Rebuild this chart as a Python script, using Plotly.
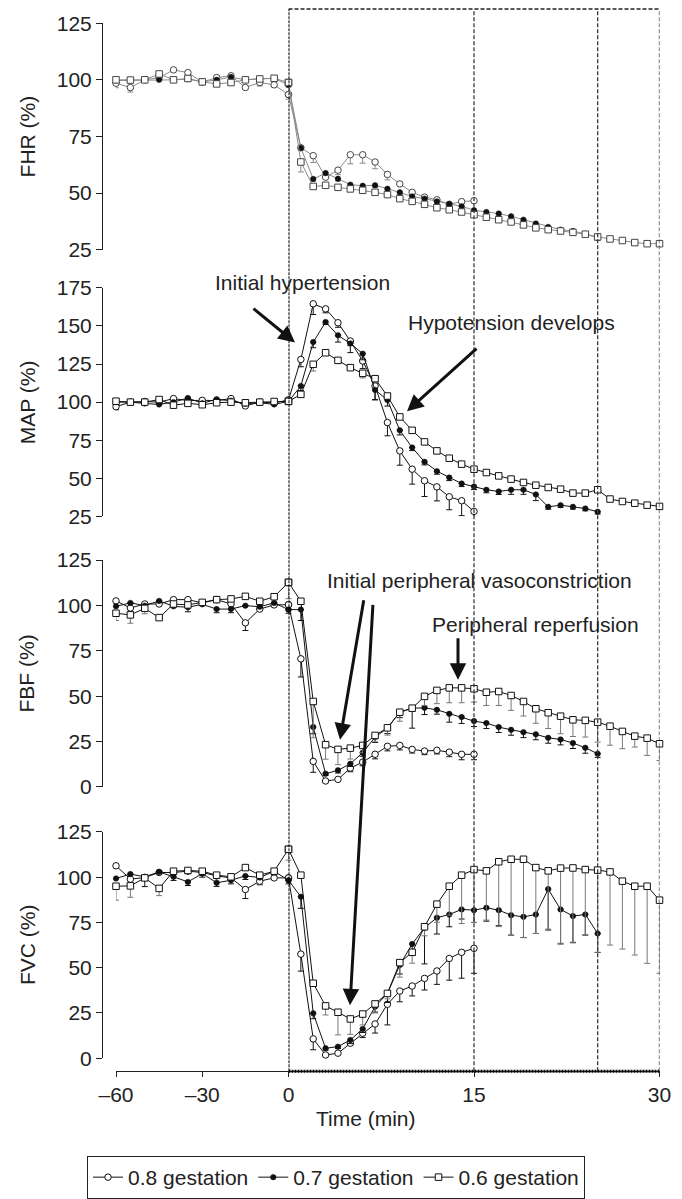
import plotly.graph_objects as go

# ---------------- data ----------------
TIME_PRE = [-60, -55, -50, -45, -40, -35, -30, -25, -20, -15, -10, -5, 0]
TIME_POST = [1, 2, 3, 4, 5, 6, 7, 8, 9, 10, 11, 12, 13, 14, 15, 16, 17, 18, 19, 20,
             21, 22, 23, 24, 25, 26, 27, 28, 29, 30]
SERIES = ["0.8 gestation", "0.7 gestation", "0.6 gestation"]

# FHR (%)
FHR_08 = [98.5, 96.6, 100, 101, 104.4, 103.2, 99, 101, 101.8, 96.6, 98.8, 97.8, 93.5,
          70, 66.5, 57, 60.1, 66.9, 66.9, 63.7, 58.2, 54, 50.3, 48.2, 47, 45, 46.2, 46.6]
FHR_08_ERR = [2, 2, 0, 0, 0, 0, 0, 0, 0, 0, 1.5, 0, 2,
              0, 3, 0, 2, 4, 3.7, 3, 2.4, 0, 0, 0, 0, 0, 0, 0]
FHR_07 = [99.7, 99.7, 100, 100, 100, 100.3, 99.1, 100, 101.2, 100, 100.6, 100.6, 97.8,
          69.9, 56.2, 58.8, 56.3, 53.7, 53.2, 53.4, 51.9, 50.3, 48.5, 47.5, 46.3, 45.1,
          44.1, 42.4, 41.6, 40.9, 39.7, 38.2, 36.5, 35, 33.8, 33.2, 31.9, 30.1]
FHR_07_ERR = [0, 0, 0, 0, 0, 0, 0, 0, 0, 0, 0, 0, 1,
              1, 1, 1, 1, 1, 1, 1, 1, 1, 1, 1, 1, 1, 1, 1, 1, 1, 1, 1, 1, 1, 1, 1, 1, 1]
FHR_06 = [100, 99.9, 100, 102.6, 100, 100.6, 99.1, 98.2, 98.8, 100, 100.4, 100.7, 98.8,
          63.7, 52.9, 53.4, 52.5, 51.8, 51.2, 50.3, 49.3, 47.5, 46.3, 45, 43.5, 42.6, 41.6,
          40.4, 39.3, 38.2, 37.2, 35.9, 34.6, 33.8, 33.2, 32.6, 31.8, 30.6, 29.7, 29, 28.1,
          27.6, 27.6]
FHR_06_ERR = [0, 0, 0, 0, 0, 0, 0, 0, 0, 0, 0, 0, 0,
              4.4, 1, 1, 1, 1, 1, 1, 1, 1, 1, 1, 1, 1, 1, 1, 1, 1, 1, 1, 1, 1, 1, 1, 1, 1,
              1, 1, 1, 1, 1]

# MAP (%)
MAP_08 = [97, 100, 100.4, 100, 102.3, 101, 101.2, 101, 102.3, 97.5, 100, 99.5, 101.4,
          128, 164.5, 161.2, 152.1, 140.1, 127, 110.6, 86.6, 68, 56, 48.4, 44.4, 37.9, 35.3, 28.3]
MAP_08_ERR = [2, 0, 0, 0, 0, 0, 0, 0, 0, 0, 0, 0, 0,
              4.8, 7, 2.6, 3, 3, 5, 9, 8.7, 9.4, 9.8, 10.3, 9.2, 8.5, 9.8, 4]
MAP_07 = [100, 100, 99.1, 98.5, 100, 102.7, 99.2, 101.9, 100.9, 99, 99.6, 98.5, 100.5,
          110.6, 139.4, 152.5, 143.8, 138.5, 131.8, 108, 101.4, 81.5, 70.2, 60.8, 54.7, 50.5,
          46.6, 44.6, 42.5, 41.4, 42.5, 42.5, 39.4, 31.3, 32.4, 31.3, 30.2, 28.1]
MAP_07_ERR = [0, 0, 0, 0, 0, 0, 0, 0, 0, 0, 0, 0, 0,
              3, 3.7, 1.5, 4.4, 6, 4, 6.5, 4, 3, 2, 2, 2, 2, 2, 2, 2, 2, 3, 3, 4,
              1.5, 1.5, 1.5, 1.5, 1.5]
MAP_06 = [100.6, 100, 100, 101.7, 98, 99.2, 98.3, 99.6, 100, 99.6, 100, 100.4, 100.5,
          105.1, 124.8, 132.4, 127.4, 122.6, 118.9, 115.4, 104, 90.3, 81.5, 73.9, 68, 63.2,
          59.3, 56, 53.8, 51.6, 49.5, 47.3, 45.5, 44, 42.9, 40.3, 40.3, 42.5, 36.4, 34.8,
          33.7, 32.4, 31.6]
MAP_06_ERR = [0, 0, 0, 0, 0, 0, 0, 0, 0, 0, 0, 0, 0,
              1.5, 4.4, 1.5, 1, 1, 3, 2, 1.5, 1.5, 1.5, 1, 1, 1, 1, 1, 1, 1, 1, 1, 1, 1, 1,
              1, 1, 1.5, 1.5, 1, 1, 1, 1]

# FBF (%)
FBF_08 = [102.5, 98.6, 100.8, 100.8, 103.2, 103.2, 101.4, 103.2, 100.8, 90.4, 98, 100.3, 100.4,
          70.6, 14.1, 3.3, 4.2, 10.4, 13.7, 18, 22.4, 22.9, 20.7, 19.8, 20.2, 19.2, 18, 18]
FBF_08_ERR = [0, 0, 0, 0, 0, 0, 0, 0, 0, 4.2, 0, 0, 0,
              10, 6, 0, 0, 2, 2, 2.5, 2.5, 2.5, 2, 2, 2, 2.5, 3, 3]
FBF_07 = [99.5, 101.4, 99.9, 102.5, 99.5, 99, 100.6, 98, 98, 99.9, 99.3, 101.4, 97.7,
          97.7, 33, 7.3, 9.2, 12.8, 18.9, 27.5, 32.4, 41.2, 43.4, 43.6, 42.5, 40.3, 38.5,
          36.3, 35.2, 33, 31.5, 30.2, 29, 27.1, 26.2, 24.2, 21.6, 18.3]
FBF_07_ERR = [0, 0, 0, 0, 0, 2.5, 0, 2, 2, 0, 0, 0, 2,
              6, 3.7, 1, 1.5, 1.5, 2, 3, 3, 3, 11, 3.7, 2.4, 4.6, 3.5, 3, 3, 3, 3, 3, 3,
              3, 3, 3, 3, 2]
FBF_06 = [95.7, 94.8, 98.4, 93.3, 100.8, 100.3, 101.7, 103.2, 103.6, 105, 102.3, 104.8, 112.7,
          102.3, 47.1, 23.3, 20.7, 21.4, 22.9, 28.4, 32.6, 41.2, 43.4, 49.9, 53.2, 54.6, 54.6,
          54.1, 52.2, 52.6, 50.4, 47.1, 43.1, 40.9, 39, 37, 36.7, 35.7, 33.5, 30.6, 28, 26.9,
          23.8]
FBF_06_ERR = [4, 4.6, 3, 0, 0, 0, 0, 0, 0, 0, 0, 0, 9,
              0, 20, 8, 8.4, 6, 4, 3.5, 4, 5, 0, 5, 7.3, 8.2, 8.2, 7.3, 7.3, 7.7, 8.2, 8, 8,
              8.7, 9.7, 9.2, 9.2, 11, 10.5, 9.5, 6, 9.5, 9.2]

# FVC (%)
FVC_08 = [106.3, 98.9, 99.8, 102.6, 102.6, 103.3, 102.6, 100.7, 99.6, 93.2, 97.8, 99.6, 99.6,
          57.5, 10.7, 1.8, 2.8, 8.3, 13.8, 18.9, 29.8, 37.1, 39.9, 44.1, 48.2, 55.1, 58.5, 60.7]
FVC_08_ERR = [0, 0, 5, 0, 0, 0, 0, 0, 0, 5, 2, 0, 0,
              9.4, 6, 0, 0, 1, 2.4, 5, 11.4, 5.9, 5.5, 6.4, 7.4, 12, 14.3, 13.8]
FVC_07 = [99.3, 101.7, 100.2, 102.9, 100.2, 97.4, 102, 96.9, 98.3, 100.7, 99.8, 103.3, 98.3,
          89.2, 24.8, 5.5, 6.4, 10.1, 16.2, 28.5, 35.8, 51.5, 63.1, 72.1, 77.6, 79.4, 82.2,
          81.8, 83.1, 81.8, 79, 78.1, 79.4, 93.4, 82.2, 78.5, 79.4, 68.9]
FVC_07_ERR = [0, 0, 0, 0, 2, 2, 2, 2, 2, 2, 0, 2, 2,
              6.4, 3, 1, 1, 2, 2, 3, 5, 5, 6, 20, 9, 6.8, 5.3, 6.8, 7.4, 8.6, 11, 11.4, 10.5,
              22.6, 19.1, 14.7, 11.4, 10.5]
FVC_06 = [95, 95.2, 99.6, 93.8, 103.3, 103.7, 103.3, 101.1, 100.2, 105.3, 101.1, 103.3, 115.4,
          101.1, 41.4, 28.9, 25.4, 21.7, 24.4, 30, 35.8, 52.8, 58.5, 72.6, 85.1, 95, 101.1,
          104.2, 103.5, 108.5, 109.9, 109.9, 105.3, 103.5, 105, 105.1, 104.2, 103.9, 102.9,
          97.8, 95, 95, 87.3]
FVC_06_ERR = [7.7, 6.3, 0, 4, 0, 0, 0, 0, 0, 0, 0, 0, 6,
              0, 0, 5, 12.5, 8.5, 6, 5, 3, 8, 6, 5, 10, 16, 26.7, 29.2, 27.2, 35.8, 42, 43.3,
              36.4, 32.2, 41.5, 41, 36, 45.4, 40.4, 37.5, 38, 42.6, 40.4]

TICKS_FHR = [25, 50, 75, 100, 125]
TICKS_MAP = [25, 50, 75, 100, 125, 150, 175]
TICKS_FLOW = [0, 25, 50, 75, 100, 125]
X_PRE_TICKS = [-60, -30, 0]
X_PRE_LABELS = ["\u201360", "\u201330", "0"]
X_POST_TICKS = [15, 30]
X_POST_LABELS = ["15", "30"]

# ---------------- layout helpers ----------------
W, H = 682, 1199
FONT = "Liberation Sans, Arial, sans-serif"


def fx(p):
    return p / W


def fy(p):
    return 1 - p / H


X0_PIX, XZERO_PIX, X30_PIX = 116, 288.5, 659.5
XAXIS_PIX = 1073
YAXIS_PIX = 102

panels = [
    ("FHR (%)", [FHR_08, FHR_07, FHR_06], [FHR_08_ERR, FHR_07_ERR, FHR_06_ERR],
     [25, 125], 23.3, 250, TICKS_FHR, True),
    ("MAP (%)", [MAP_08, MAP_07, MAP_06], [MAP_08_ERR, MAP_07_ERR, MAP_06_ERR],
     [25, 175], 288.3, 517.3, TICKS_MAP, False),
    ("FBF (%)", [FBF_08, FBF_07, FBF_06], [FBF_08_ERR, FBF_07_ERR, FBF_06_ERR],
     [0, 125], 561, 788.3, TICKS_FLOW, False),
    ("FVC (%)", [FVC_08, FVC_07, FVC_06], [FVC_08_ERR, FVC_07_ERR, FVC_06_ERR],
     [0, 125], 833.3, 1060, TICKS_FLOW, False),
]

fig = go.Figure()
layout = dict(
    width=W, height=H, margin=dict(l=0, r=0, t=0, b=0),
    paper_bgcolor="white", plot_bgcolor="white",
    font=dict(family=FONT, size=21, color="#222"),
    showlegend=True,
)

annotations = []
n_pre = len(TIME_PRE)

for pi, (title, vals_list, err_list, yr, ytop, ybot, ticks, gray) in enumerate(panels):
    yname = "y" if pi == 0 else f"y{pi + 1}"
    ykey = "yaxis" if pi == 0 else f"yaxis{pi + 1}"
    layout[ykey] = dict(
        domain=[fy(ybot), fy(ytop)], range=yr, anchor="free", position=fx(YAXIS_PIX),
        showline=True, linecolor="#222", linewidth=1, ticks="outside", ticklen=6,
        tickcolor="#222", tickvals=ticks, showgrid=False, zeroline=False,
        tickfont=dict(size=21, color="#222"), automargin=False,
    )
    annotations.append(dict(
        x=fx(27), y=fy((ytop + ybot) / 2), xref="paper", yref="paper", text=title,
        textangle=-90, showarrow=False, font=dict(size=21, color="#222"),
        xanchor="center", yanchor="middle"))

    for si, (vals, errs) in enumerate(zip(vals_list, err_list)):
        if gray:
            lc = "#8a8a8a"
            mc_edge = "#444"
            ec = "#888"
        else:
            lc = "#111"
            mc_edge = "#111"
            ec = "#777" if si == 2 else "#111"
        if si == 0:
            marker = dict(symbol="circle", size=6.5, color="white",
                          line=dict(color=mc_edge, width=1))
        elif si == 1:
            marker = dict(symbol="circle", size=5.5, color="#111",
                          line=dict(color="#111", width=0.5))
        else:
            marker = dict(symbol="square", size=6.5, color="white",
                          line=dict(color=mc_edge, width=1))
        n = len(vals)
        pre_y = vals[:n_pre]
        pre_e = errs[:n_pre]
        post_x = [0] + TIME_POST[: n - n_pre]
        post_y = vals[n_pre - 1:]
        post_e = errs[n_pre - 1:]
        for xs, ys, es, xa, show in [
            (TIME_PRE, pre_y, pre_e, "x", pi == 3),
            (post_x, post_y, post_e, "x2", False),
        ]:
            fig.add_trace(go.Scatter(
                x=xs, y=ys, xaxis=xa, yaxis=yname, mode="lines+markers",
                name=SERIES[si], legendgroup=SERIES[si], showlegend=show,
                line=dict(color=lc, width=1), marker=marker, cliponaxis=False,
                error_y=dict(type="data", symmetric=False, array=[0] * len(es),
                             arrayminus=es, width=3, thickness=1, color=ec),
            ))

layout["xaxis"] = dict(
    domain=[fx(X0_PIX), fx(XZERO_PIX)], range=[-60, 0], anchor="free",
    position=fy(XAXIS_PIX), showline=True, linecolor="#222", linewidth=1,
    ticks="outside", ticklen=5, tickcolor="#222", tickvals=X_PRE_TICKS,
    ticktext=X_PRE_LABELS, showgrid=False, zeroline=False, automargin=False,
    tickfont=dict(size=21, color="#222"),
)
layout["xaxis2"] = dict(
    domain=[fx(XZERO_PIX), fx(X30_PIX)], range=[0, 30], anchor="free",
    position=fy(XAXIS_PIX), showline=True, linecolor="#222", linewidth=1,
    ticks="outside", ticklen=5, tickcolor="#222", tickvals=X_POST_TICKS,
    ticktext=X_POST_LABELS, showgrid=False, zeroline=False, automargin=False,
    tickfont=dict(size=21, color="#222"),
)

# dashed box / period lines
shapes = []
ybot_p, ytop_p = fy(XAXIS_PIX), fy(9)
for t in [15, 25, 30]:
    shapes.append(dict(type="line", xref="x2", yref="paper", x0=t, x1=t, y0=ybot_p, y1=ytop_p,
                       line=dict(color="#3a3a3a", width=1.3, dash="4px,2px")))
shapes.append(dict(type="line", xref="x2", yref="paper", x0=0, x1=30, y0=ytop_p, y1=ytop_p,
                   line=dict(color="#222", width=1.3, dash="4px,2px")))
shapes.append(dict(type="line", xref="x2", yref="paper", x0=0, x1=0, y0=ybot_p, y1=ytop_p,
                   line=dict(color="#000", width=2, dash="3px,1px")))
shapes.append(dict(type="line", xref="x2", yref="paper", x0=0, x1=30, y0=ybot_p, y1=ybot_p,
                   line=dict(color="#000", width=3, dash="2px,1px")))
layout["shapes"] = shapes

# x title
annotations.append(dict(x=fx(366), y=fy(1120), xref="paper", yref="paper", text="Time (min)",
                        showarrow=False, font=dict(size=21, color="#222"),
                        xanchor="center", yanchor="middle"))

# text labels
for txt, cx, cy in [
    ("Initial hypertension", 302, 283),
    ("Hypotension develops", 511, 323),
    ("Initial peripheral vasoconstriction", 479, 581),
    ("Peripheral reperfusion", 535, 626),
]:
    annotations.append(dict(x=fx(cx), y=fy(cy), xref="paper", yref="paper", text=txt,
                            showarrow=False, font=dict(size=21, color="#222"),
                            xanchor="center", yanchor="middle"))

# arrows (tail -> head, pixels)
for (tx, ty, hx, hy) in [
    (252, 308, 295, 343),
    (478, 348, 407, 412),
    (364, 600, 340, 741),
    (373, 605, 350, 1007),
    (458, 638, 458, 681),
]:
    annotations.append(dict(x=fx(hx), y=fy(hy), xref="paper", yref="paper", text="",
                            showarrow=True, arrowhead=2, arrowsize=1.1, arrowwidth=3,
                            arrowcolor="#111", ax=tx - hx, ay=ty - hy,
                            axref="pixel", ayref="pixel"))

layout["annotations"] = annotations
layout["legend"] = dict(
    orientation="h", x=fx(87), y=fy(1158), xanchor="left", yanchor="top",
    bordercolor="#222", borderwidth=1, bgcolor="white", itemwidth=30,
    font=dict(size=21, color="#222"), traceorder="normal",
)

fig.update_layout(**layout)
fig.write_html("out.html")
